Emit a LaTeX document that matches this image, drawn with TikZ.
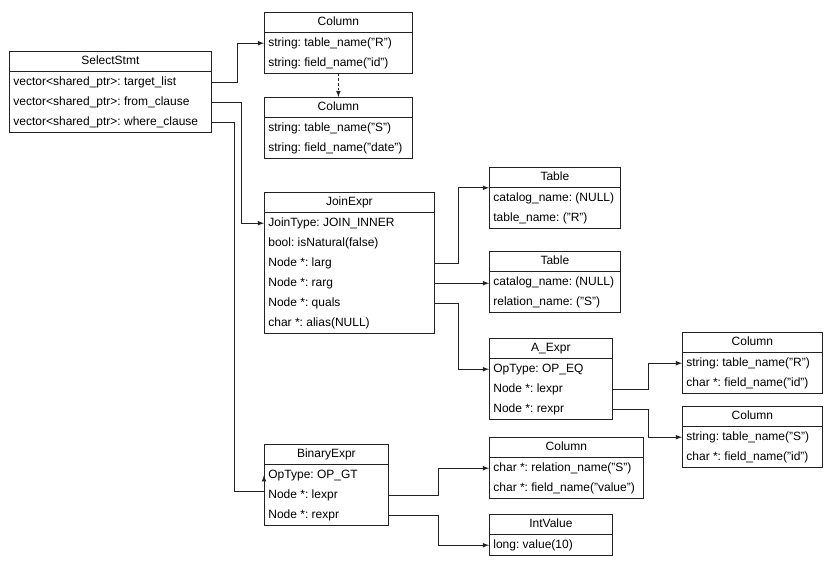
\documentclass[tikz,border=0pt]{standalone}
\usepackage{fontspec}
\setmainfont{Liberation Sans}
\usepackage{xcolor}
\definecolor{ln}{HTML}{222222}
\usetikzlibrary{positioning}

\tikzset{
	hdr/.style = {draw = ln, inner sep = 0pt, minimum height = 15pt, anchor = north west,
		text height = 7pt, text depth = 2pt},
	fld/.style = {inner xsep = 3pt, inner ysep = 0pt, minimum height = 15pt, anchor = north west,
		text height = 7pt, text depth = 2pt},
	conn/.style = {-latex, draw = ln, line width = 0.6pt}
}

% name, position, width (px), title, fields
\newcommand{\classbox}[5]{%
	\pgfmathsetlengthmacro{\boxwd}{#3*0.75}
	\pgfmathsetlengthmacro{\txtwd}{#3*0.75-6}
	\node[hdr, minimum width = \boxwd] (#1) at #2 {#4};
	\foreach \f [count=\i] in {#5} {
		\node[fld] (#1-\i) at ([yshift={-(\i-1)*15pt}]#1.south west) {\makebox[\txtwd][l]{\f}};
		\xdef\lastrow{\i}
	}
	\draw [ln, line width = 0.6pt] (#1.north west) rectangle (#1-\lastrow.south east);
}

\begin{document}
\frenchspacing
\begin{tikzpicture}[x=0.75pt, y=-0.75pt, font=\fontsize{9}{10}\selectfont, line width=0.6pt]
	\useasboundingbox (0,0) rectangle (838,569);

	\classbox{sel}{(9,51)}{202}{SelectStmt}{vector<shared\_ptr>: target\_list, vector<shared\_ptr>: from\_clause, vector<shared\_ptr>: where\_clause}
	\classbox{colR}{(264,12)}{148}{Column}{string: table\_name("R"), string: field\_name("id")}
	\classbox{colS}{(264,97)}{148}{Column}{string: table\_name("S"), string: field\_name("date")}
	\classbox{join}{(264,192)}{170}{JoinExpr}{JoinType: JOIN\_INNER, bool: isNatural(false), Node *: larg, Node *: rarg, Node *: quals, char *: alias(NULL)}
	\classbox{tabR}{(489,167)}{131}{Table}{catalog\_name: (NULL), table\_name: ("R")}
	\classbox{tabS}{(489,251)}{131}{Table}{catalog\_name: (NULL), relation\_name: ("S")}
	\classbox{aexpr}{(489,338)}{123}{A\_Expr}{OpType: OP\_EQ, Node *: lexpr, Node *: rexpr}
	\classbox{colA}{(682,332)}{140}{Column}{string: table\_name("R"), char *: field\_name("id")}
	\classbox{colB}{(682,406)}{140}{Column}{string: table\_name("S"), char *: field\_name("id")}
	\classbox{bin}{(264,444)}{124}{BinaryExpr}{OpType: OP\_GT, Node *: lexpr, Node *: rexpr}
	\classbox{colV}{(489,437)}{154}{Column}{char *: relation\_name("S"), char *: field\_name("value")}
	\classbox{intv}{(489,514)}{123}{IntValue}{long: value(10)}

	\draw [conn] (sel-1.east) -- ++(26,0) |- (colR-1.west);
	\draw [conn, dash pattern = on 2pt off 1.5pt] (colR-2.south) -- (colS.north);
	\draw [conn] (sel-2.east) -- ++(30,0) |- (join-1.west);
	\draw [conn] (sel-3.east) -- ++(23,0) |- ([yshift=-4.5pt]bin-1.south west) -- (bin-1.west);

	\draw [conn] (join-3.east) -- ++(24,0) |- (tabR.south west);
	\draw [conn] (join-4.east) -- (join-4.east -| tabS.west);
	\draw [conn] (join-5.east) -- ++(24,0) |- (aexpr-1.west);

	\draw [conn] (aexpr-2.east) -- ++(36,0) |- (colA-1.west);
	\draw [conn] (aexpr-3.east) -- ++(36,0) |- (colB-1.west);

	\draw [conn] (bin-2.east) -- ++(50,0) |- (colV-1.west);
	\draw [conn] (bin-3.east) -- ++(50,0) |- (intv-1.west);
\end{tikzpicture}
\end{document}
